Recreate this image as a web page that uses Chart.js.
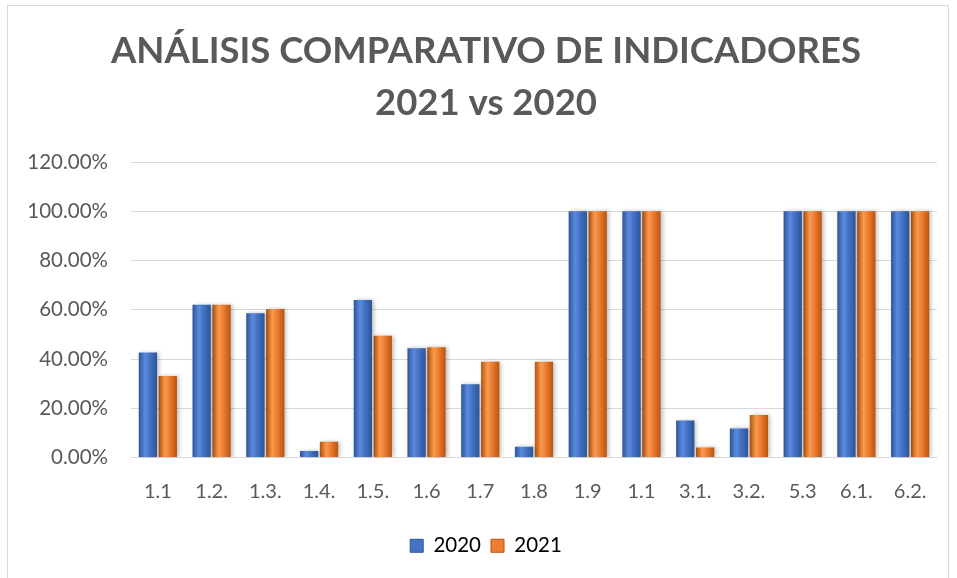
<!DOCTYPE html>
<html>
<head>
<meta charset="utf-8">
<script src="https://cdn.jsdelivr.net/npm/chart.js"></script>
<style>
  html, body { margin: 0; padding: 0; background: #fff; }
  #box { position: absolute; left: 7px; top: 5px; width: 942px; height: 580px; border: 1px solid #d9d9d9; box-sizing: border-box; }
  #wrap { position: absolute; left: 0; top: 0; width: 957px; height: 578px; }
</style>
</head>
<body>
<div id="box"></div>
<div id="wrap"><canvas id="myChart" width="957" height="578"></canvas></div>
<script>
var categories = ["1.1", "1.2.", "1.3.", "1.4.", "1.5.", "1.6", "1.7", "1.8", "1.9", "1.1", "3.1.", "3.2.", "5.3", "6.1.", "6.2."];
var values2020 = [42.6, 62, 58.6, 2.6, 64, 44.4, 29.7, 4.4, 100, 100, 15, 11.8, 100, 100, 100];
var values2021 = [33.1, 62, 60.3, 6.4, 49.4, 44.8, 38.9, 38.9, 100, 100, 4.1, 17.3, 100, 100, 100];
var titleLines = ["ANÁLISIS COMPARATIVO DE INDICADORES", "2021 vs 2020"];

// gradient per bar, like the shaded bars of the original
function barFill(dark, mid, light){
    return function(ctx){
        var el = ctx.element;
        if (!el || !el.width || isNaN(el.x)) return mid;
        var c = ctx.chart.ctx;
        var x0 = el.x - el.width / 2, x1 = el.x + el.width / 2;
        var g = c.createLinearGradient(x0, 0, x1, 0);
        g.addColorStop(0, dark);
        g.addColorStop(0.35, light);
        g.addColorStop(0.6, mid);
        g.addColorStop(1, dark);
        return g;
    };
}

var shadowPlugin = {
    id: 'barShadow',
    beforeDatasetsDraw: function(chart){
        chart.ctx.save();
        chart.ctx.shadowColor = 'rgba(0,0,0,0.25)';
        chart.ctx.shadowBlur = 4;
        chart.ctx.shadowOffsetX = 2;
        chart.ctx.shadowOffsetY = 0;
    },
    afterDatasetsDraw: function(chart){
        chart.ctx.restore();
    }
};

var ctx = document.getElementById('myChart').getContext('2d');
var chart = new Chart(ctx, {
    type: 'bar',
    data: {
        labels: categories,
        datasets: [{
            label: '2020',
            data: values2020,
            backgroundColor: barFill('#2c5597', '#4472c4', '#5b8be0')
        }, {
            label: '2021',
            data: values2021,
            backgroundColor: barFill('#b8540f', '#ed7d31', '#f89a4e')
        }]
    },
    options: {
        responsive: false,
        animation: false,
        categoryPercentage: 0.74,
        barPercentage: 0.92,
        layout: { padding: { left: 35, right: 20, top: 25, bottom: 12 } },
        plugins: {
            title: {
                display: true,
                text: titleLines,
                color: '#595959',
                font: { family: 'Lato', size: 36.5, weight: 'bold', lineHeight: 1.425 },
                padding: { top: 0, bottom: 33 }
            },
            legend: {
                position: 'bottom',
                labels: {
                    color: '#595959',
                    font: { family: 'Lato', size: 20.5 },
                    boxWidth: 13,
                    boxHeight: 13,
                    padding: 10,
                    generateLabels: function(chart){
                        return [
                            { text: '2020', fillStyle: '#4472c4', strokeStyle: '#2c5597', lineWidth: 1, datasetIndex: 0 },
                            { text: '2021', fillStyle: '#ed7d31', strokeStyle: '#b8540f', lineWidth: 1, datasetIndex: 1 }
                        ];
                    }
                }
            },
            tooltip: { enabled: false }
        },
        scales: {
            x: {
                grid: { display: false, drawTicks: false },
                border: { color: '#d9d9d9' },
                ticks: { color: '#595959', font: { family: 'Lato', size: 20 }, padding: 22, autoSkip: false, maxRotation: 0 }
            },
            y: {
                min: 0,
                max: 120,
                afterFit: function(scale){
                    scale.width = 96;
                    // labels stick out past the left padding, don't clip them
                    scale._computeLabelArea = function(){ return null; };
                },
                grid: { color: '#d9d9d9', drawTicks: false },
                border: { display: false },
                ticks: {
                    stepSize: 20,
                    color: '#595959',
                    font: { family: 'Lato', size: 20.5 },
                    padding: 23,
                    callback: function(v){ return v.toFixed(2) + '%'; }
                }
            }
        }
    },
    plugins: [shadowPlugin]
});
chart.update('none');
</script>
</body>
</html>
